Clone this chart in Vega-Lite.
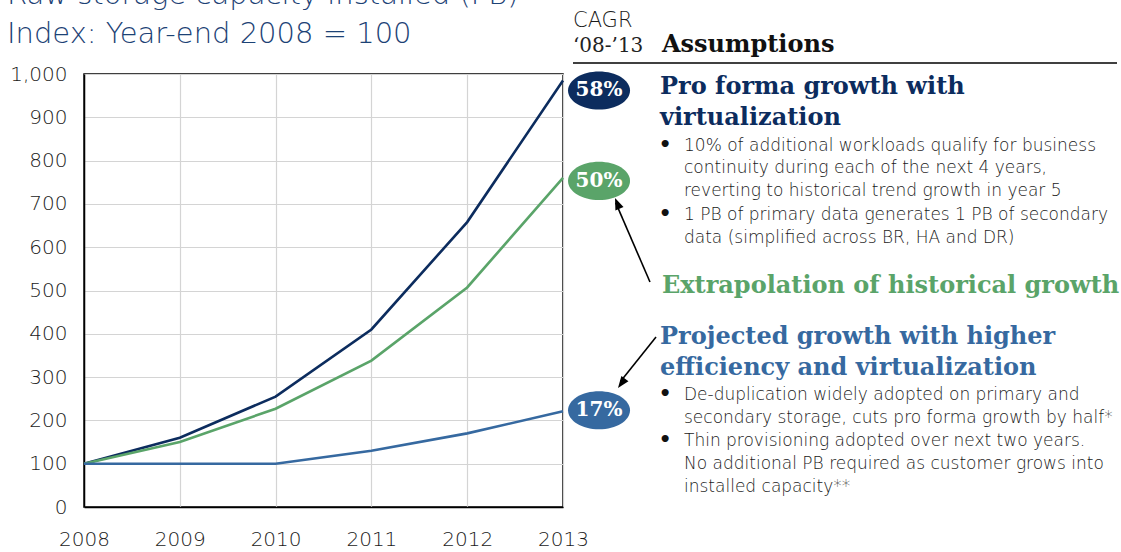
{
  "$schema": "https://vega.github.io/schema/vega-lite/v6.json",
  "width": 479,
  "height": 433,
  "autosize": {"type": "none"},
  "padding": {"left": 84, "top": 74, "right": 558, "bottom": 45},
  "background": "white",
  "config": {
    "view": {"stroke": "#000000", "strokeWidth": 1.5},
    "font": "DejaVu Sans"
  },
  "datasets": {
    "capacity": [
      {"year": 2008, "series": "Pro forma", "value": 100},
      {"year": 2009, "series": "Pro forma", "value": 160},
      {"year": 2010, "series": "Pro forma", "value": 255},
      {"year": 2011, "series": "Pro forma", "value": 410},
      {"year": 2012, "series": "Pro forma", "value": 658},
      {"year": 2013, "series": "Pro forma", "value": 985},
      {"year": 2008, "series": "Historical", "value": 100},
      {"year": 2009, "series": "Historical", "value": 150},
      {"year": 2010, "series": "Historical", "value": 227},
      {"year": 2011, "series": "Historical", "value": 338},
      {"year": 2012, "series": "Historical", "value": 507},
      {"year": 2013, "series": "Historical", "value": 760},
      {"year": 2008, "series": "Efficiency", "value": 100},
      {"year": 2009, "series": "Efficiency", "value": 100},
      {"year": 2010, "series": "Efficiency", "value": 100},
      {"year": 2011, "series": "Efficiency", "value": 130},
      {"year": 2012, "series": "Efficiency", "value": 170},
      {"year": 2013, "series": "Efficiency", "value": 221}
    ],
    "cagr": [
      {"series": "Pro forma", "cagr": "58%", "end": 985},
      {"series": "Historical", "cagr": "50%", "end": 760},
      {"series": "Efficiency", "cagr": "17%", "end": 221}
    ]
  },
  "layer": [
    {
      "data": {"name": "capacity"},
      "mark": {"type": "line", "strokeWidth": 2.6, "clip": false},
      "encoding": {
        "x": {
          "field": "year", "type": "quantitative",
          "scale": {"domain": [2008, 2013], "nice": false, "zero": false},
          "axis": {
            "title": null, "values": [2008, 2009, 2010, 2011, 2012, 2013], "format": "d",
            "labelFontSize": 20, "labelFontWeight": 200, "labelColor": "#1a1a1a",
            "labelPadding": 22, "ticks": false, "domainColor": "#000000", "domainWidth": 1.5,
            "gridColor": "#d4d4d4", "gridWidth": 1.2, "labelFlush": false
          }
        },
        "y": {
          "field": "value", "type": "quantitative",
          "scale": {"domain": [0, 1000], "nice": false},
          "axis": {
            "title": null, "values": [0, 100, 200, 300, 400, 500, 600, 700, 800, 900, 1000], "format": ",d",
            "labelFontSize": 20, "labelFontWeight": 200, "labelColor": "#1a1a1a",
            "labelPadding": 17, "ticks": false, "domainColor": "#000000", "domainWidth": 1.5,
            "gridColor": "#d4d4d4", "gridWidth": 1.2, "labelFlush": false
          }
        },
        "color": {
          "field": "series", "type": "nominal",
          "scale": {"domain": ["Pro forma", "Historical", "Efficiency"], "range": ["#0c2c5e", "#5aa469", "#3669a0"]},
          "legend": null
        },
        "detail": {"field": "series"}
      }
    },
    {
      "data": {"name": "cagr"},
      "mark": {
        "type": "point", "filled": true, "opacity": 1, "size": 3844,
        "shape": "M -1 0 A 1 0.615 0 1 0 1 0 A 1 0.615 0 1 0 -1 0 Z",
        "yOffset": {"expr": "datum.series == 'Pro forma' ? 10 : (datum.series == 'Historical' ? 3 : -1)"}
      },
      "encoding": {
        "x": {"datum": 2013.376},
        "y": {"field": "end", "type": "quantitative"},
        "color": {"field": "series", "type": "nominal", "legend": null}
      }
    },
    {
      "data": {"name": "cagr"},
      "mark": {
        "type": "text", "font": "DejaVu Serif", "fontWeight": "bold", "fontSize": 20, "color": "white",
        "align": "center", "baseline": "middle",
        "yOffset": {"expr": "datum.series == 'Pro forma' ? 10 : (datum.series == 'Historical' ? 3 : -1)"}
      },
      "encoding": {
        "x": {"datum": 2013.376},
        "y": {"field": "end", "type": "quantitative"},
        "text": {"field": "cagr"}
      }
    },
    {
      "data": {"values": [{}]},
      "mark": {
        "type": "text", "fontSize": 29, "fontWeight": 200, "color": "#1c4275", "align": "left",
        "baseline": "alphabetic", "lineHeight": 39,
        "text": ["Raw storage capacity installed (PB)", "Index: Year-end 2008 = 100"]
      },
      "encoding": {"x": {"datum": 2007.196}, "y": {"datum": 1161.7}}
    },
    {
      "data": {"values": [{}]},
      "mark": {"type": "text", "fontSize": 21, "fontWeight": 200, "color": "#1a1a1a", "align": "left", "baseline": "alphabetic", "text": "CAGR"},
      "encoding": {"x": {"datum": 2013.104}, "y": {"datum": 1108.5}}
    },
    {
      "data": {"values": [{}]},
      "mark": {"type": "text", "font": "DejaVu Serif", "fontSize": 20, "color": "#222222", "align": "left", "baseline": "alphabetic", "text": "‘08-’13"},
      "encoding": {"x": {"datum": 2013.104}, "y": {"datum": 1050.8}}
    },
    {
      "data": {"values": [{}]},
      "mark": {"type": "text", "font": "DejaVu Serif", "fontSize": 24, "fontWeight": "bold", "color": "#111111", "align": "left", "baseline": "alphabetic", "text": "Assumptions"},
      "encoding": {"x": {"datum": 2014.033}, "y": {"datum": 1050.8}}
    },
    {
      "data": {"values": [{}]},
      "mark": {"type": "rule", "color": "#000000", "strokeWidth": 1.5},
      "encoding": {"x": {"datum": 2013.104}, "x2": {"datum": 2018.783}, "y": {"datum": 1025.4}}
    },
    {
      "data": {"values": [{}]},
      "mark": {
        "type": "text", "font": "DejaVu Serif", "fontSize": 24, "fontWeight": "bold", "color": "#0c2c5e",
        "align": "left", "baseline": "alphabetic", "lineHeight": 31,
        "text": ["Pro forma growth with", "virtualization"]
      },
      "encoding": {"x": {"datum": 2014.013}, "y": {"datum": 953.8}}
    },
    {
      "data": {"values": [{}]},
      "mark": {
        "type": "text", "fontSize": 17, "fontWeight": 200, "color": "#1a1a1a", "align": "left", "baseline": "alphabetic", "lineHeight": 22.5,
        "text": ["10% of additional workloads qualify for business", "continuity during each of the next 4 years,", "reverting to historical trend growth in year 5"]
      },
      "encoding": {"x": {"datum": 2014.263}, "y": {"datum": 822.2}}
    },
    {
      "data": {"values": [{}]},
      "mark": {
        "type": "text", "fontSize": 17, "fontWeight": 200, "color": "#1a1a1a", "align": "left", "baseline": "alphabetic", "lineHeight": 22.5,
        "text": ["1 PB of primary data generates 1 PB of secondary", "data (simplified across BR, HA and DR)"]
      },
      "encoding": {"x": {"datum": 2014.263}, "y": {"datum": 662.8}}
    },
    {
      "data": {"values": [{}]},
      "mark": {"type": "text", "fontSize": 20, "fontWeight": "bold", "color": "#111111", "align": "center", "baseline": "alphabetic", "text": "•"},
      "encoding": {"x": {"datum": 2014.065}, "y": {"datum": 822.2}}
    },
    {
      "data": {"values": [{}]},
      "mark": {"type": "text", "fontSize": 20, "fontWeight": "bold", "color": "#111111", "align": "center", "baseline": "alphabetic", "text": "•"},
      "encoding": {"x": {"datum": 2014.065}, "y": {"datum": 662.8}}
    },
    {
      "data": {"values": [{}]},
      "mark": {
        "type": "text", "font": "DejaVu Serif", "fontSize": 24, "fontWeight": "bold", "color": "#5aa469",
        "align": "left", "baseline": "alphabetic", "text": "Extrapolation of historical growth"
      },
      "encoding": {"x": {"datum": 2014.033}, "y": {"datum": 494.2}}
    },
    {
      "data": {"values": [{}]},
      "mark": {
        "type": "text", "font": "DejaVu Serif", "fontSize": 24, "fontWeight": "bold", "color": "#3669a0",
        "align": "left", "baseline": "alphabetic", "lineHeight": 31,
        "text": ["Projected growth with higher", "efficiency and virtualization"]
      },
      "encoding": {"x": {"datum": 2014.013}, "y": {"datum": 376.4}}
    },
    {
      "data": {"values": [{}]},
      "mark": {
        "type": "text", "fontSize": 17, "fontWeight": 200, "color": "#1a1a1a", "align": "left", "baseline": "alphabetic", "lineHeight": 22.5,
        "text": ["De-duplication widely adopted on primary and", "secondary storage, cuts pro forma growth by half*"]
      },
      "encoding": {"x": {"datum": 2014.263}, "y": {"datum": 247.1}}
    },
    {
      "data": {"values": [{}]},
      "mark": {
        "type": "text", "fontSize": 17, "fontWeight": 200, "color": "#1a1a1a", "align": "left", "baseline": "alphabetic", "lineHeight": 22.8,
        "text": ["Thin provisioning adopted over next two years.", "No additional PB required as customer grows into", "installed capacity**"]
      },
      "encoding": {"x": {"datum": 2014.263}, "y": {"datum": 140.9}}
    },
    {
      "data": {"values": [{}]},
      "mark": {"type": "text", "fontSize": 20, "fontWeight": "bold", "color": "#111111", "align": "center", "baseline": "alphabetic", "text": "•"},
      "encoding": {"x": {"datum": 2014.065}, "y": {"datum": 247.1}}
    },
    {
      "data": {"values": [{}]},
      "mark": {"type": "text", "fontSize": 20, "fontWeight": "bold", "color": "#111111", "align": "center", "baseline": "alphabetic", "text": "•"},
      "encoding": {"x": {"datum": 2014.065}, "y": {"datum": 140.9}}
    },
    {
      "data": {"values": [{}]},
      "mark": {"type": "rule", "color": "#000000", "strokeWidth": 1.6},
      "encoding": {"x": {"datum": 2013.908}, "y": {"datum": 519.6}, "x2": {"datum": 2013.55}, "y2": {"datum": 703}}
    },
    {
      "data": {"values": [{}]},
      "mark": {"type": "point", "filled": true, "opacity": 1, "color": "#000000", "size": 256, "shape": "M 0 0 L -0.55 1.45 L 0.55 1.45 Z", "angle": 337.4},
      "encoding": {"x": {"datum": 2013.543}, "y": {"datum": 713.6}}
    },
    {
      "data": {"values": [{}]},
      "mark": {"type": "rule", "color": "#000000", "strokeWidth": 1.6},
      "encoding": {"x": {"datum": 2013.971}, "y": {"datum": 392.6}, "x2": {"datum": 2013.6}, "y2": {"datum": 290}}
    },
    {
      "data": {"values": [{}]},
      "mark": {"type": "point", "filled": true, "opacity": 1, "color": "#000000", "size": 256, "shape": "M 0 0 L -0.55 1.45 L 0.55 1.45 Z", "angle": 216.7},
      "encoding": {"x": {"datum": 2013.574}, "y": {"datum": 274.8}}
    }
  ]
}
